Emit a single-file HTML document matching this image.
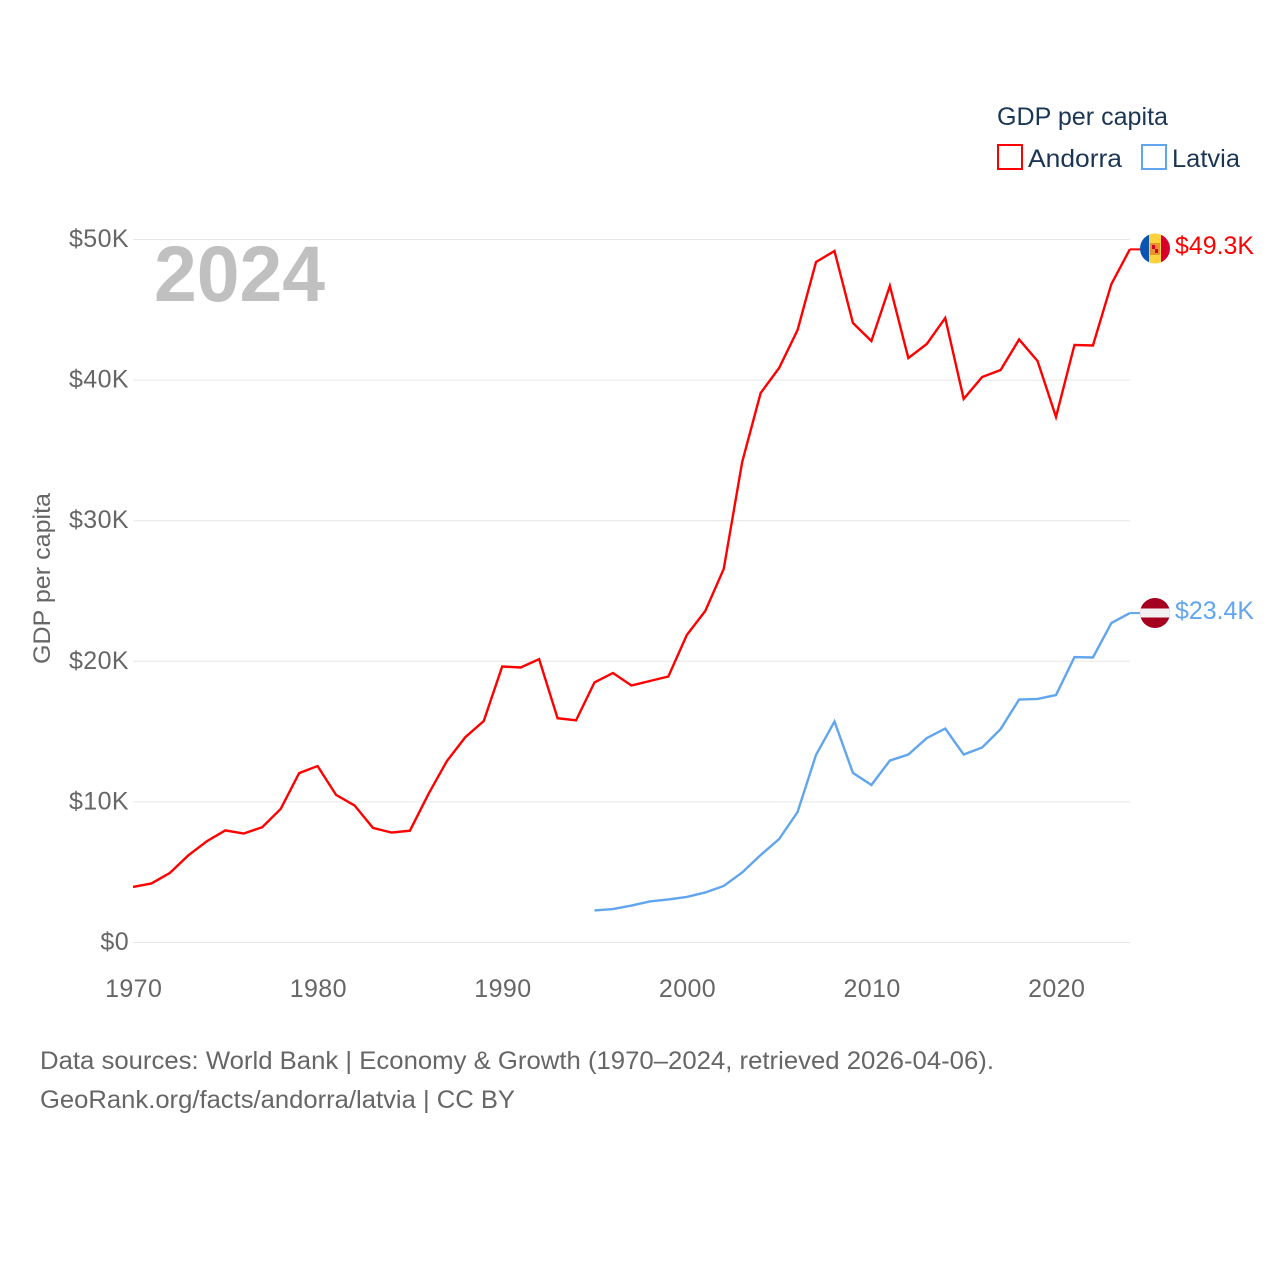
<!DOCTYPE html>
<html lang="en">
<head>
<meta charset="utf-8">
<title>GDP per capita: Andorra and Latvia</title>
<style>
html,body{margin:0;padding:0;background:#fff;}
svg{display:block;font-family:"Liberation Sans",sans-serif;}
</style>
</head>
<body>
<svg id="chart" width="1280" height="1280" viewBox="0 0 1280 1280" xmlns="http://www.w3.org/2000/svg">
  <defs>
    <clipPath id="clip-ad"><circle cx="1155" cy="248.5" r="15"/></clipPath>
    <clipPath id="clip-lv"><circle cx="1155" cy="613" r="15"/></clipPath>
  </defs>
  <g id="grid"></g>
  <g id="yticks"></g>
  <g id="xticks"></g>
  <text x="154" y="301" font-size="79" font-weight="bold" fill="#c0c0c0" textLength="171" lengthAdjust="spacingAndGlyphs">2024</text>
  <text transform="translate(50,578.5) rotate(-90)" text-anchor="middle" font-size="24" fill="#666" textLength="171" lengthAdjust="spacingAndGlyphs">GDP per capita</text>
  <g id="series"></g>

  <g>
    <text x="997" y="125" font-size="25" fill="#1b3654" textLength="171" lengthAdjust="spacingAndGlyphs">GDP per capita</text>
    <rect x="998" y="145" width="24" height="24" fill="none" stroke="#ff0000" stroke-width="2"/>
    <text x="1028" y="167" font-size="25" fill="#1b3654" textLength="94" lengthAdjust="spacingAndGlyphs">Andorra</text>
    <rect x="1142" y="145" width="24" height="24" fill="none" stroke="#60a5ee" stroke-width="2"/>
    <text x="1172" y="167" font-size="25" fill="#1b3654" textLength="68" lengthAdjust="spacingAndGlyphs">Latvia</text>
  </g>

  <g clip-path="url(#clip-ad)">
    <rect x="1140" y="233" width="9" height="31" fill="#0a55b0"/>
    <rect x="1149" y="233" width="12" height="31" fill="#fdd23f"/>
    <rect x="1161" y="233" width="9" height="31" fill="#d8002b"/>
    <rect x="1150" y="243" width="10" height="12" fill="#e8942a"/>
    <rect x="1152" y="245" width="3" height="4" fill="#d8002b"/>
    <rect x="1155" y="249" width="3" height="4" fill="#d8002b"/>
  </g>
  <g clip-path="url(#clip-lv)">
    <rect x="1140" y="598" width="30" height="30" fill="#a5001f"/>
    <rect x="1140" y="608.5" width="30" height="9" fill="#f2f2f2"/>
  </g>

  <text id="label-andorra" font-size="25" fill="#ff0000" x="1175" y="254" textLength="79" lengthAdjust="spacingAndGlyphs"></text>
  <text id="label-latvia" font-size="25" fill="#60a5ee" x="1175" y="619" textLength="79" lengthAdjust="spacingAndGlyphs"></text>

  <text x="40" y="1069" font-size="25" fill="#666" textLength="954" lengthAdjust="spacingAndGlyphs">Data sources: World Bank | Economy &amp; Growth (1970–2024, retrieved 2026-04-06).</text>
  <text x="40" y="1108" font-size="25" fill="#666" textLength="475" lengthAdjust="spacingAndGlyphs">GeoRank.org/facts/andorra/latvia | CC BY</text>
</svg>
<script>
const andorraStartYear = 1970;
const andorraValues = [3.95,4.2,4.95,6.2,7.2,7.97,7.75,8.2,9.5,12.05,12.55,10.5,9.75,8.15,7.82,7.95,10.55,12.9,14.6,15.75,19.63,19.56,20.15,15.95,15.8,18.5,19.17,18.28,18.6,18.92,21.87,23.58,26.57,34.17,39.08,40.86,43.56,48.4,49.18,44.06,42.78,46.7,41.57,42.57,44.42,38.66,40.22,40.72,42.89,41.36,37.38,42.5,42.46,46.83,49.3];
const latviaStartYear = 1995;
const latviaValues = [2.28,2.38,2.63,2.92,3.06,3.24,3.56,4.02,4.98,6.22,7.36,9.28,13.34,15.72,12.06,11.2,12.94,13.37,14.54,15.22,13.37,13.87,15.18,17.28,17.32,17.6,20.3,20.27,22.72,23.43];
const yTickValues = [0,10,20,30,40,50];
const yTickLabels = ["$0","$10K","$20K","$30K","$40K","$50K"];
const xTickValues = [1970,1980,1990,2000,2010,2020];
const endLabelAndorra = "$49.3K";
const endLabelLatvia = "$23.4K";

const NS = "http://www.w3.org/2000/svg";
function xScale(year){ return 133 + (year - 1970) * 18.46; }
function yScale(value){ return 942.5 - value * 14.06; }

function linePoints(startYear, values){
  return values.map(function(v, i){
    return xScale(startYear + i).toFixed(2) + "," + yScale(v).toFixed(2);
  }).join(" ");
}

const grid = document.getElementById("grid");
const yticks = document.getElementById("yticks");
yTickValues.forEach(function(v, i){
  const gl = document.createElementNS(NS, "line");
  
  
  gl.setAttribute("x1", 133);
  gl.setAttribute("x2", 1130);
  gl.setAttribute("y1", yScale(v));
  gl.setAttribute("y2", yScale(v));
  gl.setAttribute("stroke", "#e6e6e6");
  gl.setAttribute("stroke-width", "1");
  grid.appendChild(gl);
  const t = document.createElementNS(NS, "text");
  
  
  t.setAttribute("x", 129);
  t.setAttribute("y", yScale(v) + 7.5);
  t.setAttribute("text-anchor", "end");
  t.setAttribute("font-size", "25");
  t.setAttribute("letter-spacing", "0.4");
  t.setAttribute("fill", "#666");
  t.textContent = yTickLabels[i];
  yticks.appendChild(t);
});

const xticks = document.getElementById("xticks");
xTickValues.forEach(function(y){
  const t = document.createElementNS(NS, "text");
  
  
  t.setAttribute("x", xScale(y) + 0.7);
  t.setAttribute("y", 997);
  t.setAttribute("text-anchor", "middle");
  t.setAttribute("font-size", "25");
  t.setAttribute("letter-spacing", "0.4");
  t.setAttribute("fill", "#666");
  t.textContent = String(y);
  xticks.appendChild(t);
});

const seriesGroup = document.getElementById("series");
const andorraLine = document.createElementNS(NS, "polyline");


andorraLine.setAttribute("points", linePoints(andorraStartYear, andorraValues));
andorraLine.setAttribute("fill", "none");
andorraLine.setAttribute("stroke", "#ff0000");
andorraLine.setAttribute("stroke-width", "2.4");
seriesGroup.appendChild(andorraLine);

const latviaLine = document.createElementNS(NS, "polyline");


latviaLine.setAttribute("points", linePoints(latviaStartYear, latviaValues));
latviaLine.setAttribute("fill", "none");
latviaLine.setAttribute("stroke", "#60a5ee");
latviaLine.setAttribute("stroke-width", "2.4");
seriesGroup.appendChild(latviaLine);

const lastAd = andorraValues[andorraValues.length - 1];
const lastLv = latviaValues[latviaValues.length - 1];
[[lastAd, "#ff0000", "andorra-end-connector"], [lastLv, "#60a5ee", "latvia-end-connector"]].forEach(function(c){
  const s = document.createElementNS(NS, "line");
  
  
  s.setAttribute("x1", xScale(2024));
  s.setAttribute("x2", 1141);
  s.setAttribute("y1", yScale(c[0]));
  s.setAttribute("y2", yScale(c[0]));
  s.setAttribute("stroke", c[1]);
  s.setAttribute("stroke-width", "2");
  seriesGroup.appendChild(s);
});

document.getElementById("label-andorra").textContent = endLabelAndorra;
document.getElementById("label-latvia").textContent = endLabelLatvia;
</script>
</body>
</html>
